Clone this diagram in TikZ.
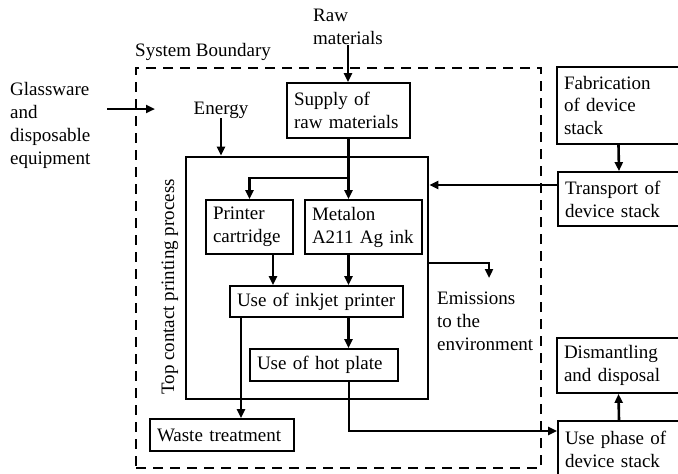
\documentclass[tikz,border=0pt]{standalone}
\usepackage{fontspec}
\setmainfont{Liberation Serif}
\usetikzlibrary{arrows.meta}
\begin{document}
\begin{tikzpicture}[x=1pt,y=-1pt,
  font=\fontsize{19}{23}\selectfont,
  bx/.style={draw, line width=1.8pt, inner xsep=7pt, inner ysep=0pt, align=left},
  lbl/.style={inner sep=0pt, align=left},
  arr/.style={line width=2.6pt, -{Triangle[length=9pt,width=8pt]}},
  ln/.style={line width=2.6pt}]
\useasboundingbox (0,0) rectangle (678,474);
% boundary and process frame
\node[draw, line width=2.6pt, dash pattern=on 10pt off 7pt, minimum width=405pt, minimum height=400pt, inner sep=0pt] (boundary) at (338.5,268) {};
\node[draw, line width=2.6pt, minimum width=242pt, minimum height=242pt, inner sep=0pt] (proc) at (307,278) {};
% labels
\node[lbl, anchor=west] (sysb) at (135,52) {System Boundary};
\node[lbl] (raw) at (348,27) {Raw\\materials};
\node[lbl] (energy) at (221,110) {Energy};
\node[lbl, anchor=west] (glass) at (10,125) {Glassware\\and\\disposable\\equipment};
\node[lbl, rotate=90] (plabel) at (170,287) {Top contact printing process};
\node[lbl, anchor=west] (emis) at (437,321) {Emissions\\to the\\environment};
% boxes
\node[bx, text width=109pt, minimum height=55pt] (supply) at (348.5,110.5) {Supply of\\raw materials};
\node[bx, text width=73pt, minimum height=54pt] (printer) at (249.5,227) {Printer\\cartridge};
\node[bx, text width=103pt, minimum height=54pt] (metalon) at (363.5,227) {Metalon\\A211 Ag ink};
\node[bx, text width=159pt, minimum height=31pt] (inkjet) at (316.5,301.5) {Use of inkjet printer};
\node[bx, text width=134pt, minimum height=32pt] (hotplate) at (324,365) {Use of hot plate};
\node[bx, text width=130pt, minimum height=32pt] (waste) at (222,435) {Waste treatment};
\node[bx, text width=109pt, minimum height=77pt] (fab) at (618.5,105.5) {Fabrication\\of device\\stack};
\node[bx, text width=108pt, minimum height=54pt] (transport) at (619,199) {Transport of\\device stack};
\node[bx, text width=109pt, minimum height=55pt] (dismantling) at (618.5,365.5) {Dismantling\\and disposal};
\node[bx, text width=108pt, minimum height=57pt] (usephase) at (619,449.5) {Use phase of\\device stack};
% connectors
\coordinate (ga) at (107,109);
\coordinate (gb) at (155,109);
\draw[arr] (ga) -- (gb);
\draw[arr] (raw.south) -- (raw.south |- supply.north);
\draw[arr] (energy.south) -- (energy.south |- proc.north);
\draw[arr] (supply.south) -- (supply.south |- metalon.north);
\coordinate (br) at (348.5,178);
\draw[arr] (br) -| (printer.north);
\draw[arr] ([xshift=23.5pt]printer.south) coordinate (ps) -- (ps |- inkjet.north);
\draw[arr] (supply.south |- metalon.south) -- (supply.south |- inkjet.north);
\draw[arr] (supply.south |- inkjet.south) -- (supply.south |- hotplate.north);
\draw[arr] ([xshift=-75.5pt]inkjet.south) coordinate (ws) -- (ws |- waste.north);
\draw[arr] ([xshift=25pt]hotplate.south) |- ([yshift=18.5pt]usephase.west);
\draw[arr] (usephase.north) -- (dismantling.south);
\draw[arr] (fab.south) -- (transport.north);
\draw[arr] ([yshift=14pt]transport.west) coordinate (tw) -- (tw -| proc.east);
\coordinate (em) at (489,278);
\draw[arr] ([yshift=15pt]proc.east) -| (em);
\end{tikzpicture}
\end{document}
